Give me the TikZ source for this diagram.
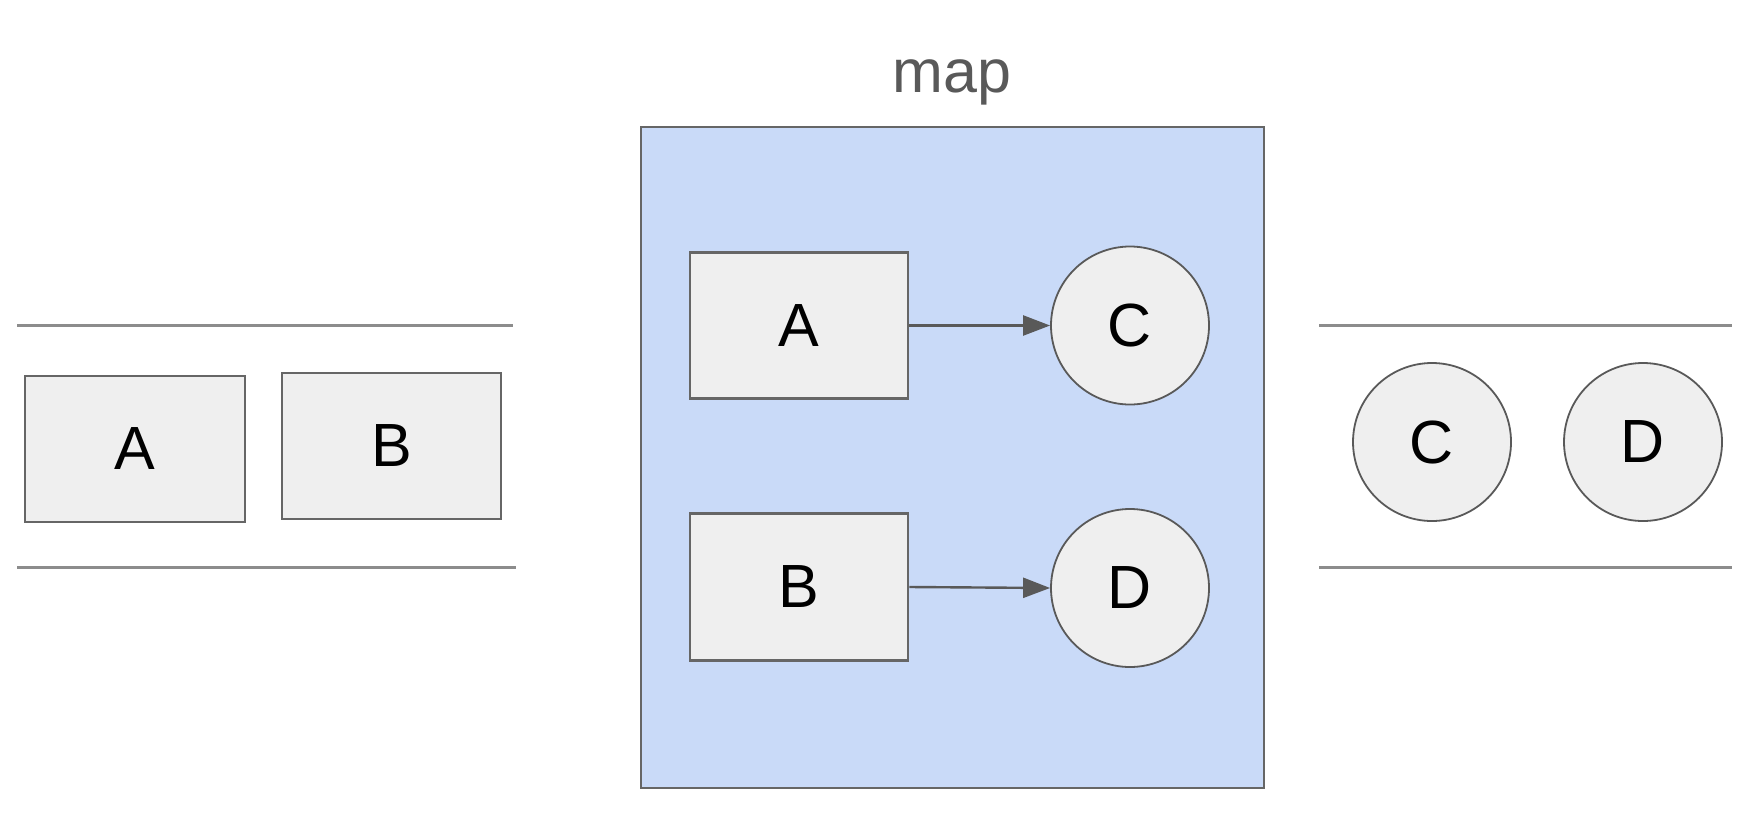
\documentclass[tikz,border=0pt]{standalone}
\usepackage{fontspec}
\setmainfont{Liberation Sans}
\usetikzlibrary{arrows.meta}
\definecolor{mapblue}{HTML}{C9DAF8}
\definecolor{boxfill}{HTML}{EFEFEF}
\definecolor{boxedge}{HTML}{666666}
\definecolor{circedge}{HTML}{595959}
\definecolor{rulegray}{HTML}{8C8C8C}
\definecolor{labelgray}{HTML}{595959}
\tikzset{
  elembox/.style={draw=boxedge, fill=boxfill, line width=2.6pt, inner sep=0pt,
    minimum width=219pt, minimum height=146pt, font=\fontsize{61}{70}\selectfont},
  elemcirc/.style={circle, draw=circedge, fill=boxfill, line width=1.8pt, inner sep=0pt,
    minimum size=158pt, font=\fontsize{61}{70}\selectfont},
  rule/.style={draw=rulegray, line width=3pt},
  conn/.style={draw=circedge, line width=2.4pt, -{Triangle[length=27pt,width=20pt]}},
}
\begin{document}
\begin{tikzpicture}[x=1pt,y=-1pt]
\useasboundingbox (0,0) rectangle (1760,835);
% input collection
\coordinate (lt1) at (17,325.5);
\coordinate (lt2) at (513,325.5);
\coordinate (lb1) at (17,567);
\coordinate (lb2) at (516,567);
\draw[rule] (lt1) -- (lt2);
\draw[rule] (lb1) -- (lb2);
\node[elembox, minimum width=220pt] (inA) at (135,449) {A};
\node[elembox] (inB) at (391.5,446) {B};
% map transform
\node[draw=boxedge, fill=mapblue, line width=2.6pt, inner sep=0pt,
  minimum width=623pt, minimum height=661pt] (map) at (952.5,457.5) {};
\node[anchor=base, text=labelgray, font=\fontsize{61}{70}\selectfont] (maplabel) at (952,92) {map};
\node[elembox, minimum width=218pt] (mA) at (799,325.5) {A};
\node[elembox, minimum width=218pt, minimum height=147pt] (mB) at (799,587) {B};
\node[elemcirc] (mC) at (1130,325.5) {C};
\node[elemcirc] (mD) at (1130,588) {D};
\draw[conn] (mA.east) -- (mC.west);
\draw[conn] (mB.east) -- (mD.west);
% output collection
\coordinate (rt1) at (1319,325.5);
\coordinate (rt2) at (1732,325.5);
\coordinate (rb1) at (1319,567);
\coordinate (rb2) at (1732,567);
\draw[rule] (rt1) -- (rt2);
\draw[rule] (rb1) -- (rb2);
\node[elemcirc] (oC) at (1432,442) {C};
\node[elemcirc] (oD) at (1643,442) {D};
\end{tikzpicture}
\end{document}
